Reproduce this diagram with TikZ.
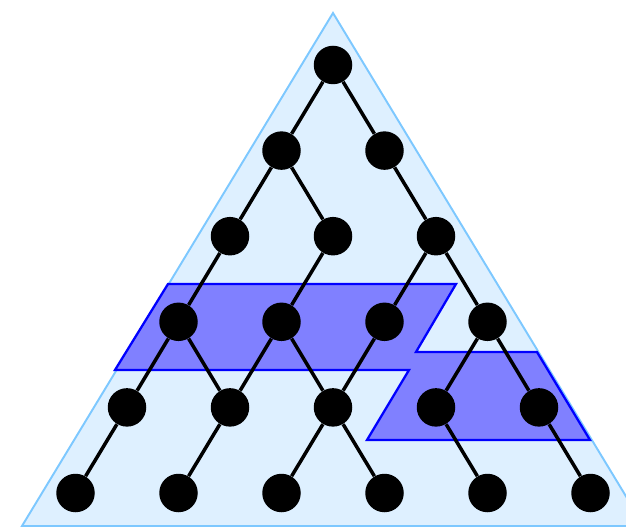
\documentclass[tikz,border=0pt]{standalone}
\usetikzlibrary{positioning}
\definecolor{sky}{RGB}{222,240,255}
\definecolor{skyline}{RGB}{125,200,255}
\definecolor{band}{RGB}{128,128,255}
\tikzset{
  dot/.style={circle,fill=black,inner sep=0pt,minimum size=7.7mm},
  link/.style={line width=2pt,draw=black},
  region/.style={fill=band,draw=blue,line width=1.3pt},
}
\begin{document}
\begin{tikzpicture}
  \useasboundingbox (0,0) rectangle (12.52,10.56);
  % outer triangle
  \draw[fill=sky,draw=skyline,line width=1.1pt] (0.44,0.04) -- (6.66,10.30) -- (12.88,0.04) -- cycle;
  % highlighted band
  \draw[region] (3.36,4.88) -- (9.12,4.88) -- (8.32,3.52) -- (10.74,3.52) -- (11.80,1.76)
    -- (7.34,1.76) -- (8.18,3.16) -- (2.30,3.16) -- cycle;
  % nodes
  \foreach \r in {0,...,5}
    \foreach \k in {0,...,\r}
      \node[dot] (n\r\k) at ({6.66+(2*\k-\r)*1.03},{9.26-\r*1.712}) {};
  % edges
  \foreach \a/\b in {00/10,00/11,10/20,10/21,11/22,20/30,21/31,22/32,22/33,
      30/40,30/41,31/41,31/42,32/42,33/43,33/44,40/50,41/51,42/52,42/53,43/54,44/55}
    \draw[link] (n\a) -- (n\b);
\end{tikzpicture}
\end{document}
